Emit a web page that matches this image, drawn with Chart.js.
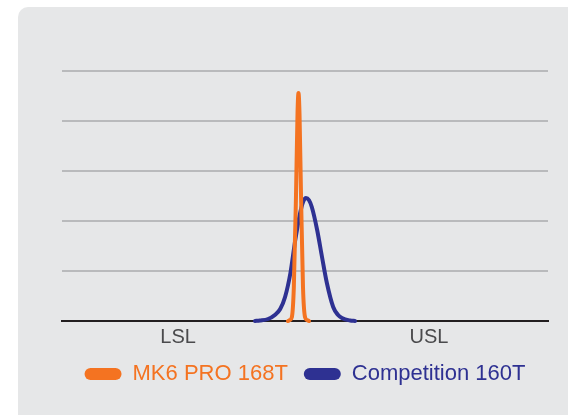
<!DOCTYPE html>
<html>
<head>
<meta charset="utf-8">
<script src="https://cdn.jsdelivr.net/npm/chart.js@4"></script>
<style>
  html, body { margin: 0; padding: 0; background: #ffffff; width: 568px; height: 415px; overflow: hidden; }
  #panel { position: absolute; left: 18px; top: 7px; width: 570px; height: 430px; background: #e6e7e8; border-radius: 10px; }
  #wrap { position: absolute; left: 18px; top: 7px; width: 550px; height: 408px; }
</style>
</head>
<body>
<div id="panel"></div>
<div id="wrap"><canvas id="c" width="550" height="408"></canvas></div>
<script>
// Category / tick labels and their positions on the measurement axis
const tickLabels = ['LSL', 'USL'];
const tickValues = [23.9, 75.5];

// Series names
const seriesNames = ['MK6 PRO 168T', 'Competition 160T'];

// MK6 PRO 168T distribution curve (x = measurement, y = density)
const mk6X = [46.5, 46.9, 47.3, 47.7, 48.15, 48.46, 48.66, 48.87, 49.18, 49.59, 50.0, 50.41, 50.82];
const mk6Y = [0, 0.02, 0.08, 0.67, 2.52, 4.15, 4.56, 4.15, 2.52, 0.67, 0.08, 0.02, 0];

// Competition 160T distribution curve
const compX = [39.7, 40.7, 42.4, 43.8, 44.9, 45.9, 47.0, 48.0, 49.0, 49.6, 50.2, 50.8, 51.4, 52.5, 53.5, 54.5, 55.8, 56.8, 57.6, 59.3, 60.3];
const compY = [0, 0.01, 0.04, 0.12, 0.24, 0.48, 0.96, 1.62, 2.16, 2.38, 2.46, 2.42, 2.28, 1.82, 1.28, 0.76, 0.28, 0.12, 0.06, 0.01, 0];

const seriesColors = ['#f47321', '#2e3192'];

const toPoints = (xs, ys) => xs.map((x, i) => ({ x: x, y: ys[i] }));

new Chart(document.getElementById('c'), {
  type: 'line',
  data: {
    datasets: [
      {
        label: seriesNames[0],
        data: toPoints(mk6X, mk6Y),
        borderColor: seriesColors[0],
        backgroundColor: seriesColors[0],
        borderWidth: 4,
        pointRadius: 0,
        cubicInterpolationMode: 'monotone',
        borderCapStyle: 'round',
        borderJoinStyle: 'round',
        clip: false
      },
      {
        label: seriesNames[1],
        data: toPoints(compX, compY),
        borderColor: seriesColors[1],
        backgroundColor: seriesColors[1],
        borderWidth: 4,
        pointRadius: 0,
        cubicInterpolationMode: 'monotone',
        borderCapStyle: 'round',
        borderJoinStyle: 'round',
        clip: false
      }
    ]
  },
  options: {
    responsive: false,
    animation: false,
    devicePixelRatio: 1,
    layout: { padding: { left: 44, right: 20, top: 64, bottom: 20 } },
    scales: {
      x: {
        type: 'linear',
        min: 0,
        max: 100,
        afterBuildTicks: (s) => { s.ticks = tickValues.map(v => ({ value: v })); },
        afterFit: (s) => { s.height = 26; },
        ticks: {
          autoSkip: false,
          maxRotation: 0,
          padding: 13,
          color: '#4a4a4c',
          font: { family: 'Liberation Sans, Arial, sans-serif', size: 20, lineHeight: 0.3 },
          callback: (v) => { const i = tickValues.indexOf(v); return i >= 0 ? tickLabels[i] : ''; }
        },
        grid: { display: false, drawTicks: false },
        border: { display: true, color: '#231f20', width: 2 }
      },
      y: {
        min: 0,
        max: 5,
        ticks: { display: false, stepSize: 1 },
        grid: {
          drawTicks: false,
          lineWidth: 2,
          color: (ctx) => (ctx.tick && ctx.tick.value === 0) ? 'rgba(0,0,0,0)' : '#b9babc'
        },
        border: { display: false },
        afterFit: (s) => { s.width = 0; }
      }
    },
    plugins: {
      tooltip: { enabled: false },
      legend: {
        display: true,
        position: 'bottom',
        labels: {
          boxWidth: 37,
          boxHeight: 12,
          padding: 16,
          font: { family: 'Liberation Sans, Arial, sans-serif', size: 22 },
          generateLabels: (chart) => chart.data.datasets.map((ds, i) => ({
            text: ds.label,
            fillStyle: ds.borderColor,
            strokeStyle: ds.borderColor,
            lineWidth: 0,
            fontColor: ds.borderColor,
            borderRadius: 6,
            hidden: false,
            datasetIndex: i
          }))
        }
      }
    }
  }
});
</script>
</body>
</html>
